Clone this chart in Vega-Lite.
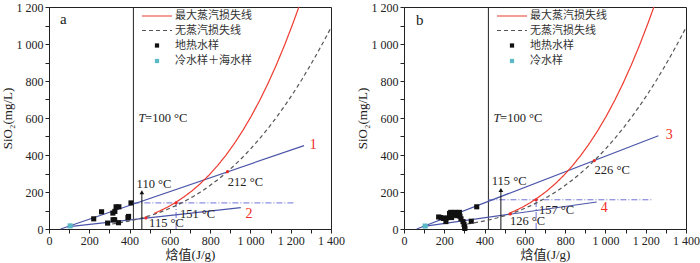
{
  "$schema": "https://vega.github.io/schema/vega-lite/v6.json",
  "padding": {"left": 0, "top": 0, "right": 0, "bottom": 0},
  "spacing": 10,
  "datasets": {
    "curves": [
      {"s": "无蒸汽损失线", "h": 313.5, "c": 26.9},
      {"s": "无蒸汽损失线", "h": 334.4, "c": 30.4},
      {"s": "无蒸汽损失线", "h": 376.2, "c": 38.5},
      {"s": "无蒸汽损失线", "h": 418, "c": 48.1},
      {"s": "无蒸汽损失线", "h": 459.8, "c": 59.4},
      {"s": "无蒸汽损失线", "h": 501.6, "c": 72.5},
      {"s": "无蒸汽损失线", "h": 543.4, "c": 87.7},
      {"s": "无蒸汽损失线", "h": 585.2, "c": 105.1},
      {"s": "无蒸汽损失线", "h": 627, "c": 124.9},
      {"s": "无蒸汽损失线", "h": 668.8, "c": 147.2},
      {"s": "无蒸汽损失线", "h": 710.6, "c": 172.2},
      {"s": "无蒸汽损失线", "h": 752.4, "c": 200.1},
      {"s": "无蒸汽损失线", "h": 794.2, "c": 231.1},
      {"s": "无蒸汽损失线", "h": 836, "c": 265.1},
      {"s": "无蒸汽损失线", "h": 877.8, "c": 302.6},
      {"s": "无蒸汽损失线", "h": 919.6, "c": 343.3},
      {"s": "无蒸汽损失线", "h": 961.4, "c": 387.6},
      {"s": "无蒸汽损失线", "h": 1003.2, "c": 435.6},
      {"s": "无蒸汽损失线", "h": 1045, "c": 487.4},
      {"s": "无蒸汽损失线", "h": 1086.8, "c": 543.0},
      {"s": "无蒸汽损失线", "h": 1128.6, "c": 602.6},
      {"s": "无蒸汽损失线", "h": 1170.4, "c": 666.2},
      {"s": "无蒸汽损失线", "h": 1212.2, "c": 733.8},
      {"s": "无蒸汽损失线", "h": 1254, "c": 805.5},
      {"s": "无蒸汽损失线", "h": 1295.8, "c": 881.7},
      {"s": "无蒸汽损失线", "h": 1337.6, "c": 961.8},
      {"s": "无蒸汽损失线", "h": 1379.4, "c": 1046},
      {"s": "无蒸汽损失线", "h": 1400, "c": 1089},
      {"s": "最大蒸汽损失线", "h": 522.5, "c": 84.6},
      {"s": "最大蒸汽损失线", "h": 543.4, "c": 94.3},
      {"s": "最大蒸汽损失线", "h": 585.2, "c": 116.5},
      {"s": "最大蒸汽损失线", "h": 627, "c": 142.3},
      {"s": "最大蒸汽损失线", "h": 668.8, "c": 172.3},
      {"s": "最大蒸汽损失线", "h": 710.6, "c": 206.8},
      {"s": "最大蒸汽损失线", "h": 752.4, "c": 246.2},
      {"s": "最大蒸汽损失线", "h": 794.2, "c": 290.9},
      {"s": "最大蒸汽损失线", "h": 836, "c": 341.5},
      {"s": "最大蒸汽损失线", "h": 877.8, "c": 398.0},
      {"s": "最大蒸汽损失线", "h": 919.6, "c": 461.0},
      {"s": "最大蒸汽损失线", "h": 961.4, "c": 531.0},
      {"s": "最大蒸汽损失线", "h": 1003.2, "c": 608.1},
      {"s": "最大蒸汽损失线", "h": 1045, "c": 692.9},
      {"s": "最大蒸汽损失线", "h": 1086.8, "c": 785.8},
      {"s": "最大蒸汽损失线", "h": 1128.6, "c": 886.7},
      {"s": "最大蒸汽损失线", "h": 1170.4, "c": 996.6},
      {"s": "最大蒸汽损失线", "h": 1212.2, "c": 1115},
      {"s": "最大蒸汽损失线", "h": 1240.5, "c": 1200}
    ],
    "t100": [{"h": 419, "c": 0, "c2": 1200}]
  },
  "hconcat": [
    {
      "width": 282,
      "height": 222,
      "encoding": {
        "x": {"field": "h", "type": "quantitative", "scale": {"domain": [0, 1400], "nice": false},
          "axis": {"title": "焓值(J/g)", "values": [0,100,200,300,400,500,600,700,800,900,1000,1100,1200,1300,1400],
            "labelExpr": "datum.value % 200 === 0 ? replace(format(datum.value, ','), ',', ' ') : ''",
            "labelPadding": 2, "titlePadding": 2}},
        "y": {"field": "c", "type": "quantitative", "scale": {"domain": [0, 1200], "nice": false},
          "axis": {"title": "SiO₂(mg/L)", "values": [0,100,200,300,400,500,600,700,800,900,1000,1100,1200],
            "labelExpr": "datum.value % 200 === 0 ? replace(format(datum.value, ','), ',', ' ') : ''",
            "labelPadding": 2, "titlePadding": 2}}
      },
      "layer": [
        {"data": {"name": "t100"}, "mark": {"type": "rule", "color": "#222", "strokeWidth": 1}, "encoding": {"y2": {"field": "c2"}}},
        {"data": {"values": [
            {"g": "h", "h": 419, "c": 141}, {"g": "h", "h": 1216, "c": 141},
            {"g": "v", "h": 631, "c": 0}, {"g": "v", "h": 631, "c": 141}]},
          "mark": {"type": "line", "color": "#6f73d6", "strokeWidth": 1, "strokeDash": [6, 2, 1, 2]},
          "encoding": {"detail": {"field": "g"}}},
        {"data": {"values": [
            {"ln": "1", "h": 58, "c": 0}, {"ln": "1", "h": 1266, "c": 451},
            {"ln": "2", "h": 90, "c": 12}, {"ln": "2", "h": 952, "c": 116}]},
          "mark": {"type": "line", "color": "#4b55a8", "strokeWidth": 1.2},
          "encoding": {"detail": {"field": "ln"}}},
        {"data": {"name": "curves"},
          "mark": {"type": "line", "strokeWidth": 1.2},
          "encoding": {
            "color": {"field": "s", "type": "nominal",
              "scale": {"domain": ["最大蒸汽损失线", "无蒸汽损失线"], "range": ["#ee3a2e", "#555555"]},
              "legend": {"orient": "none", "legendX": 102, "legendY": 3, "title": null, "padding": 0,
                "symbolType": "M-3,0H3", "symbolSize": 100, "symbolStrokeWidth": 1.2,
                "labelFont": "Noto Sans CJK SC", "labelFontSize": 11, "labelColor": "#333",
                "rowPadding": 3.5, "labelOffset": 12}},
            "strokeDash": {"field": "s", "type": "nominal",
              "scale": {"domain": ["最大蒸汽损失线", "无蒸汽损失线"], "range": [[1, 0], [4, 3]]},
              "legend": {"orient": "none", "legendX": 102, "legendY": 3, "title": null, "padding": 0,
                "symbolType": "M-3,0H3", "symbolSize": 100, "symbolStrokeWidth": 1.2,
                "labelFont": "Noto Sans CJK SC", "labelFontSize": 11, "labelColor": "#333",
                "rowPadding": 3.5, "labelOffset": 12}}
          }},
        {"data": {"values": [
            {"s": "地热水样", "h": 222, "c": 55}, {"s": "地热水样", "h": 261, "c": 93},
            {"s": "地热水样", "h": 291, "c": 32}, {"s": "地热水样", "h": 317, "c": 86},
            {"s": "地热水样", "h": 327, "c": 95}, {"s": "地热水样", "h": 333, "c": 120},
            {"s": "地热水样", "h": 347, "c": 120}, {"s": "地热水样", "h": 318, "c": 50},
            {"s": "地热水样", "h": 326, "c": 50}, {"s": "地热水样", "h": 345, "c": 34},
            {"s": "地热水样", "h": 392, "c": 62}, {"s": "地热水样", "h": 395, "c": 68},
            {"s": "地热水样", "h": 407, "c": 141},
            {"s": "冷水样＋海水样", "h": 105, "c": 17}]},
          "mark": {"type": "point", "filled": true, "shape": "square", "size": 26, "opacity": 1},
          "encoding": {"fill": {"field": "s", "type": "nominal",
            "scale": {"domain": ["地热水样", "冷水样＋海水样"], "range": ["#111111", "#5bb8c6"]},
            "legend": {"orient": "none", "legendX": 102.5, "legendY": 33, "title": null, "padding": 0,
              "symbolType": "square", "symbolSize": 18, "symbolStrokeWidth": 0,
              "labelFont": "Noto Sans CJK SC", "labelFontSize": 11, "labelColor": "#333",
              "rowPadding": 3.5, "labelOffset": 12.5}}}},
        {"data": {"values": [{"h": 461, "c": 0, "c2": 200}]},
          "mark": {"type": "rule", "color": "#111", "strokeWidth": 1}, "encoding": {"y2": {"field": "c2"}}},
        {"data": {"values": [{"h": 461, "c": 199}]},
          "mark": {"type": "point", "shape": "triangle-up", "filled": true, "size": 22, "color": "#111", "opacity": 1}},
        {"data": {"values": [{"h": 886, "c": 310}, {"h": 631, "c": 141}, {"h": 481, "c": 60}]},
          "mark": {"type": "point", "shape": "circle", "filled": true, "size": 10, "color": "#ee2a24", "opacity": 1}},
        {"data": {"values": [
            {"h": 888, "c": 255, "t": "212 °C"}, {"h": 650, "c": 80, "t": "151 °C"},
            {"h": 497, "c": 30, "t": "115 °C"}, {"h": 435, "c": 243, "t": "110 °C"},
            {"h": 477, "c": 601, "t": "=100 °C"}]},
          "mark": {"type": "text", "align": "left", "baseline": "middle", "font": "Liberation Serif", "fontSize": 12.5, "color": "#222"},
          "encoding": {"text": {"field": "t"}}},
        {"data": {"values": [{"h": 444, "c": 601, "t": "T"}]},
          "mark": {"type": "text", "align": "left", "baseline": "middle", "font": "Liberation Serif", "fontStyle": "italic", "fontSize": 12.5, "color": "#222"},
          "encoding": {"text": {"field": "t"}}},
        {"data": {"values": [{"h": 1295, "c": 455, "t": "1"}, {"h": 975, "c": 80, "t": "2"}]},
          "mark": {"type": "text", "align": "left", "baseline": "middle", "font": "Liberation Serif", "fontSize": 14, "color": "#ee2a24"},
          "encoding": {"text": {"field": "t"}}},
        {"data": {"values": [{"h": 55, "c": 1135, "t": "a"}]},
          "mark": {"type": "text", "align": "left", "baseline": "middle", "font": "Liberation Serif", "fontSize": 15, "color": "#222"},
          "encoding": {"text": {"field": "t"}}}
      ]
    },
    {
      "width": 282,
      "height": 222,
      "encoding": {
        "x": {"field": "h", "type": "quantitative", "scale": {"domain": [0, 1400], "nice": false},
          "axis": {"title": "焓值(J/g)", "values": [0,100,200,300,400,500,600,700,800,900,1000,1100,1200,1300,1400],
            "labelExpr": "datum.value % 200 === 0 ? replace(format(datum.value, ','), ',', ' ') : ''",
            "labelPadding": 2, "titlePadding": 2}},
        "y": {"field": "c", "type": "quantitative", "scale": {"domain": [0, 1200], "nice": false},
          "axis": {"title": "SiO₂(mg/L)", "values": [0,100,200,300,400,500,600,700,800,900,1000,1100,1200],
            "labelExpr": "datum.value % 200 === 0 ? replace(format(datum.value, ','), ',', ' ') : ''",
            "labelPadding": 2, "titlePadding": 2}}
      },
      "layer": [
        {"data": {"name": "t100"}, "mark": {"type": "rule", "color": "#222", "strokeWidth": 1}, "encoding": {"y2": {"field": "c2"}}},
        {"data": {"values": [
            {"g": "h", "h": 419, "c": 158}, {"g": "h", "h": 1238, "c": 158},
            {"g": "v", "h": 656, "c": 0}, {"g": "v", "h": 656, "c": 158}]},
          "mark": {"type": "line", "color": "#6f73d6", "strokeWidth": 1, "strokeDash": [6, 2, 1, 2]},
          "encoding": {"detail": {"field": "g"}}},
        {"data": {"values": [
            {"ln": "3", "h": 63, "c": 0}, {"ln": "3", "h": 1263, "c": 504},
            {"ln": "4", "h": 90, "c": 13}, {"ln": "4", "h": 957, "c": 146}]},
          "mark": {"type": "line", "color": "#4b55a8", "strokeWidth": 1.2},
          "encoding": {"detail": {"field": "ln"}}},
        {"data": {"name": "curves"},
          "mark": {"type": "line", "strokeWidth": 1.2},
          "encoding": {
            "color": {"field": "s", "type": "nominal",
              "scale": {"domain": ["最大蒸汽损失线", "无蒸汽损失线"], "range": ["#ee3a2e", "#555555"]},
              "legend": {"orient": "none", "legendX": 102, "legendY": 3, "title": null, "padding": 0,
                "symbolType": "M-3,0H3", "symbolSize": 100, "symbolStrokeWidth": 1.2,
                "labelFont": "Noto Sans CJK SC", "labelFontSize": 11, "labelColor": "#333",
                "rowPadding": 3.5, "labelOffset": 12}},
            "strokeDash": {"field": "s", "type": "nominal",
              "scale": {"domain": ["最大蒸汽损失线", "无蒸汽损失线"], "range": [[1, 0], [4, 3]]},
              "legend": {"orient": "none", "legendX": 102, "legendY": 3, "title": null, "padding": 0,
                "symbolType": "M-3,0H3", "symbolSize": 100, "symbolStrokeWidth": 1.2,
                "labelFont": "Noto Sans CJK SC", "labelFontSize": 11, "labelColor": "#333",
                "rowPadding": 3.5, "labelOffset": 12}}
          }},
        {"data": {"values": [
            {"s": "地热水样", "h": 172, "c": 65}, {"s": "地热水样", "h": 184, "c": 62},
            {"s": "地热水样", "h": 196, "c": 57}, {"s": "地热水样", "h": 208, "c": 40},
            {"s": "地热水样", "h": 212, "c": 60}, {"s": "地热水样", "h": 226, "c": 84},
            {"s": "地热水样", "h": 232, "c": 90}, {"s": "地热水样", "h": 236, "c": 62},
            {"s": "地热水样", "h": 245, "c": 75}, {"s": "地热水样", "h": 253, "c": 90},
            {"s": "地热水样", "h": 262, "c": 72}, {"s": "地热水样", "h": 268, "c": 85},
            {"s": "地热水样", "h": 275, "c": 90}, {"s": "地热水样", "h": 278, "c": 69},
            {"s": "地热水样", "h": 283, "c": 55}, {"s": "地热水样", "h": 293, "c": 40},
            {"s": "地热水样", "h": 298, "c": 25}, {"s": "地热水样", "h": 301, "c": 12},
            {"s": "地热水样", "h": 302, "c": 3}, {"s": "地热水样", "h": 334, "c": 42},
            {"s": "地热水样", "h": 361, "c": 120},
            {"s": "冷水样", "h": 105, "c": 16}]},
          "mark": {"type": "point", "filled": true, "shape": "square", "size": 26, "opacity": 1},
          "encoding": {"fill": {"field": "s", "type": "nominal",
            "scale": {"domain": ["地热水样", "冷水样"], "range": ["#111111", "#5bb8c6"]},
            "legend": {"orient": "none", "legendX": 102.5, "legendY": 33, "title": null, "padding": 0,
              "symbolType": "square", "symbolSize": 18, "symbolStrokeWidth": 0,
              "labelFont": "Noto Sans CJK SC", "labelFontSize": 11, "labelColor": "#333",
              "rowPadding": 3.5, "labelOffset": 12.5}}}},
        {"data": {"values": [{"h": 481, "c": 0, "c2": 212}]},
          "mark": {"type": "rule", "color": "#111", "strokeWidth": 1}, "encoding": {"y2": {"field": "c2"}}},
        {"data": {"values": [{"h": 481, "c": 211}]},
          "mark": {"type": "point", "shape": "triangle-up", "filled": true, "size": 22, "color": "#111", "opacity": 1}},
        {"data": {"values": [{"h": 945, "c": 370}, {"h": 656, "c": 158}, {"h": 527, "c": 81}]},
          "mark": {"type": "point", "shape": "circle", "filled": true, "size": 10, "color": "#ee2a24", "opacity": 1}},
        {"data": {"values": [
            {"h": 946, "c": 319, "t": "226 °C"}, {"h": 670, "c": 102, "t": "157 °C"},
            {"h": 526, "c": 42, "t": "126 °C"}, {"h": 436, "c": 261, "t": "115 °C"},
            {"h": 477, "c": 601, "t": "=100 °C"}]},
          "mark": {"type": "text", "align": "left", "baseline": "middle", "font": "Liberation Serif", "fontSize": 12.5, "color": "#222"},
          "encoding": {"text": {"field": "t"}}},
        {"data": {"values": [{"h": 444, "c": 601, "t": "T"}]},
          "mark": {"type": "text", "align": "left", "baseline": "middle", "font": "Liberation Serif", "fontStyle": "italic", "fontSize": 12.5, "color": "#222"},
          "encoding": {"text": {"field": "t"}}},
        {"data": {"values": [{"h": 1299, "c": 508, "t": "3"}, {"h": 977, "c": 113, "t": "4"}]},
          "mark": {"type": "text", "align": "left", "baseline": "middle", "font": "Liberation Serif", "fontSize": 14, "color": "#ee2a24"},
          "encoding": {"text": {"field": "t"}}},
        {"data": {"values": [{"h": 60, "c": 1128, "t": "b"}]},
          "mark": {"type": "text", "align": "left", "baseline": "middle", "font": "Liberation Serif", "fontSize": 15, "color": "#222"},
          "encoding": {"text": {"field": "t"}}}
      ]
    }
  ],
  "resolve": {"scale": {"color": "independent", "strokeDash": "independent", "fill": "independent"},
    "legend": {"color": "independent", "strokeDash": "independent", "fill": "independent"}},
  "config": {
    "font": "Liberation Serif",
    "view": {"stroke": "#222", "strokeWidth": 1},
    "axis": {"labelFont": "Liberation Serif", "labelFontSize": 12, "labelColor": "#222",
      "titleFont": "Liberation Serif, Noto Sans CJK SC", "titleFontSize": 13, "titleFontWeight": "normal", "titleColor": "#222",
      "domainColor": "#222", "tickColor": "#222", "tickSize": 4, "grid": false, "labelFlush": false, "labelOverlap": false, "labelBound": false}
  }
}
